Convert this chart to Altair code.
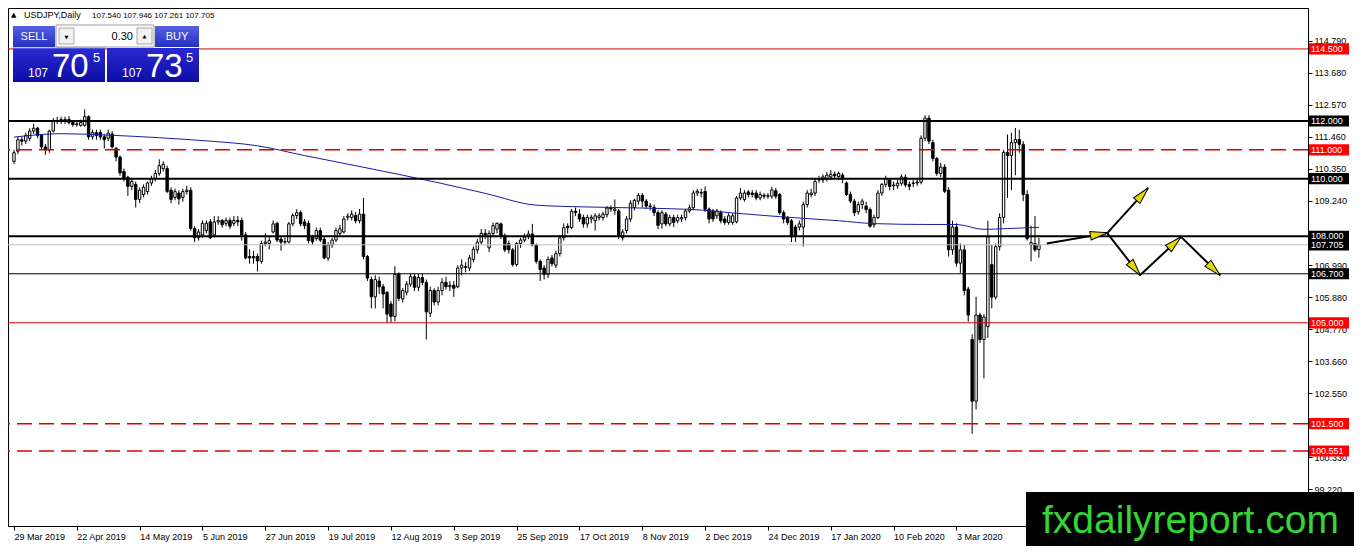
import json
import pandas as pd
import altair as alt

# ---------------- data ----------------
date_labels = ["29 Mar 2019", "22 Apr 2019", "14 May 2019", "5 Jun 2019", "27 Jun 2019",
               "19 Jul 2019", "12 Aug 2019", "3 Sep 2019", "25 Sep 2019", "17 Oct 2019",
               "8 Nov 2019", "2 Dec 2019", "24 Dec 2019", "17 Jan 2020", "10 Feb 2020",
               "3 Mar 2020"]
label_step = 16

opens = [
    110.60, 110.95, 111.35, 111.30, 111.40, 111.65, 111.75, 111.50, 111.10, 111.00,
    111.65, 112.00, 111.98, 112.05, 112.05, 111.95, 111.88, 111.85, 111.85, 112.15,
    111.45, 111.60, 111.60, 111.45, 111.40, 111.55, 111.05, 110.75, 110.25, 110.05,
    109.73, 109.80, 109.28, 109.45, 109.55, 109.85, 110.00, 110.18, 110.35, 110.35,
    109.60, 109.35, 109.50, 109.35, 109.55, 109.60, 108.27, 107.95, 108.05, 108.20,
    108.50, 108.05, 108.50, 108.55, 108.45, 108.55, 108.45, 108.55, 108.55, 108.05,
    107.30, 107.30, 107.30, 107.13, 107.75, 107.75, 108.15, 108.45, 107.90, 107.80,
    107.80, 108.43, 108.72, 108.82, 108.50, 108.45, 107.98, 107.92, 108.20, 107.90,
    107.24, 107.70, 107.87, 108.10, 108.15, 108.66, 108.65, 108.72, 108.54, 108.77,
    107.30, 106.50, 105.90, 106.45, 106.25, 106.05, 105.65, 105.22, 106.70, 105.83,
    106.06, 106.34, 106.60, 106.23, 106.57, 106.40, 105.33, 106.12, 105.72, 106.12,
    106.40, 106.25, 106.30, 106.25, 106.90, 106.95, 106.90, 107.20, 107.53, 107.80,
    108.10, 107.60, 108.10, 108.25, 108.43, 108.03, 107.75, 107.53, 107.02, 107.75,
    107.87, 108.00, 108.08, 107.70, 107.13, 106.90, 106.68, 107.25, 107.00, 107.40,
    107.95, 108.35, 108.30, 108.87, 108.77, 108.65, 108.43, 108.60, 108.54, 108.65,
    108.65, 108.75, 108.98, 108.90, 108.88, 107.95, 108.20, 108.60, 109.00, 109.22,
    109.42, 109.22, 109.05, 109.00, 108.82, 108.43, 108.77, 108.43, 108.65, 108.54,
    108.60, 108.65, 108.88, 108.99, 109.50, 109.52, 109.56, 108.94, 108.88, 108.71,
    108.82, 108.60, 108.48, 108.48, 108.50, 109.33, 109.28, 109.54, 109.50, 109.50,
    109.33, 109.42, 109.39, 109.39, 109.58, 109.45, 108.82, 108.65, 108.54, 108.32,
    108.32, 108.32, 109.10, 109.45, 109.50, 109.95, 109.95, 110.00, 110.06, 110.15,
    110.07, 110.12, 109.85, 109.45, 109.22, 108.85, 109.10, 109.05, 108.93, 108.40,
    108.65, 109.50, 109.80, 109.95, 109.75, 109.75, 109.84, 110.05, 109.80, 109.83,
    109.85, 109.88, 111.40, 112.10, 111.25, 110.70, 110.18, 110.40, 109.60, 107.53,
    108.32, 107.07, 107.53, 106.17, 104.42, 102.28, 105.27, 104.42, 104.87, 107.02,
    105.89, 107.64, 108.65, 110.91, 110.80, 111.25, 111.36, 111.19, 109.45, 107.70,
    107.75, 107.540]

highs = [
    111.00, 111.45, 111.45, 111.60, 111.75, 111.90, 111.80, 111.55, 111.20, 111.70,
    112.10, 112.15, 112.15, 112.15, 112.17, 112.00, 111.98, 112.05, 112.40, 112.20,
    111.70, 111.70, 111.70, 111.55, 111.70, 111.65, 111.10, 110.80, 110.35, 110.10,
    110.00, 109.90, 109.70, 109.80, 109.90, 110.10, 110.30, 110.67, 110.60, 110.45,
    109.70, 109.65, 109.60, 109.65, 109.75, 109.70, 108.35, 108.25, 108.55, 108.55,
    108.60, 108.70, 108.70, 108.60, 108.65, 108.65, 108.70, 108.70, 108.65, 108.15,
    107.55, 107.50, 107.40, 107.85, 108.10, 108.00, 108.55, 108.50, 108.00, 107.95,
    108.50, 108.80, 108.94, 108.90, 108.60, 108.55, 108.05, 108.30, 108.30, 108.00,
    107.80, 107.95, 108.30, 108.40, 108.70, 108.80, 108.90, 108.85, 108.95, 109.33,
    107.35, 106.60, 106.65, 106.60, 106.35, 106.10, 105.75, 106.96, 106.75, 106.20,
    106.45, 106.70, 106.70, 106.70, 106.70, 106.50, 106.25, 106.20, 106.25, 106.55,
    106.60, 106.45, 106.45, 107.00, 107.20, 107.10, 107.35, 107.65, 107.90, 108.25,
    108.25, 108.20, 108.48, 108.48, 108.48, 108.10, 107.85, 107.60, 107.80, 107.95,
    108.10, 108.20, 108.43, 107.75, 107.20, 107.00, 107.30, 107.35, 107.50, 108.05,
    108.45, 108.45, 108.95, 109.00, 108.94, 108.75, 108.75, 108.75, 108.80, 108.80,
    108.85, 109.05, 109.07, 109.28, 108.95, 108.25, 108.70, 109.25, 109.30, 109.50,
    109.50, 109.30, 109.15, 109.10, 108.90, 108.90, 108.85, 108.75, 108.75, 108.75,
    108.75, 108.95, 109.10, 109.60, 109.65, 109.65, 109.73, 109.00, 108.95, 108.95,
    108.90, 108.70, 108.80, 108.80, 109.40, 109.67, 109.60, 109.60, 109.60, 109.60,
    109.55, 109.50, 109.50, 109.72, 109.68, 109.50, 108.90, 108.70, 108.60, 108.40,
    108.55, 109.20, 109.60, 109.65, 110.00, 110.10, 110.15, 110.23, 110.30, 110.25,
    110.25, 110.20, 109.90, 109.55, 109.30, 109.20, 109.30, 109.20, 109.00, 108.75,
    109.60, 109.85, 110.10, 110.00, 109.90, 109.95, 110.15, 110.15, 109.90, 109.95,
    110.00, 111.50, 112.20, 112.20, 111.35, 110.75, 110.55, 110.50, 109.70, 108.54,
    108.45, 107.75, 107.70, 106.25, 104.60, 105.90, 105.35, 105.30, 108.54, 107.70,
    107.75, 108.80, 111.00, 111.53, 111.60, 111.76, 111.70, 111.30, 109.60, 108.37,
    108.70, 107.946]

lows = [
    110.50, 110.85, 111.15, 111.20, 111.30, 111.55, 111.40, 111.00, 110.83, 110.90,
    111.60, 111.90, 111.90, 111.90, 111.88, 111.80, 111.80, 111.80, 111.80, 111.35,
    111.35, 111.35, 111.35, 111.05, 111.30, 111.05, 110.60, 110.10, 109.90, 109.40,
    109.60, 109.00, 109.15, 109.35, 109.45, 109.75, 109.90, 110.10, 110.25, 109.50,
    109.15, 109.25, 109.10, 109.20, 109.45, 108.20, 107.80, 107.85, 107.95, 108.10,
    107.90, 107.95, 108.40, 108.30, 108.35, 108.25, 108.35, 108.35, 107.85, 107.20,
    107.05, 107.05, 106.78, 107.05, 107.65, 107.55, 108.10, 107.80, 107.50, 107.70,
    107.75, 108.35, 108.60, 108.35, 108.25, 107.75, 107.70, 107.85, 107.80, 107.20,
    107.15, 107.60, 107.80, 108.00, 108.10, 108.55, 108.55, 108.45, 108.45, 107.20,
    106.45, 105.50, 105.50, 106.00, 105.50, 104.99, 105.00, 105.05, 105.75, 105.70,
    105.95, 106.25, 106.10, 106.10, 106.30, 104.42, 105.20, 105.60, 105.60, 105.95,
    106.15, 106.10, 105.90, 106.20, 106.65, 106.75, 106.80, 107.10, 107.40, 107.70,
    107.90, 107.45, 108.00, 108.10, 107.90, 107.45, 107.40, 106.95, 106.95, 107.60,
    107.80, 107.90, 107.65, 107.05, 106.45, 106.50, 106.55, 106.95, 106.90, 107.30,
    107.85, 108.10, 108.25, 108.70, 108.50, 108.30, 108.30, 108.45, 108.20, 108.55,
    108.55, 108.65, 108.85, 108.75, 107.90, 107.85, 108.10, 108.50, 108.90, 109.10,
    109.00, 108.95, 108.90, 108.70, 108.25, 108.26, 108.35, 108.35, 108.32, 108.45,
    108.50, 108.55, 108.80, 108.90, 109.40, 109.35, 108.85, 108.45, 108.50, 108.60,
    108.45, 108.40, 108.40, 108.40, 108.45, 109.25, 109.20, 109.35, 109.35, 109.25,
    109.25, 109.30, 109.30, 109.30, 109.30, 108.75, 108.45, 108.40, 107.80, 107.80,
    108.20, 107.65, 109.00, 109.35, 109.40, 109.85, 109.85, 109.90, 109.95, 110.00,
    109.95, 109.84, 109.40, 109.15, 108.70, 108.75, 108.95, 108.80, 108.30, 108.30,
    108.60, 109.40, 109.70, 109.60, 109.60, 109.65, 109.75, 109.70, 109.60, 109.70,
    109.75, 109.80, 111.30, 111.20, 110.60, 110.10, 110.05, 109.50, 107.30, 107.36,
    106.95, 106.73, 105.95, 105.04, 101.15, 101.99, 104.30, 103.07, 104.48, 105.50,
    105.80, 107.50, 108.45, 109.33, 109.60, 110.12, 110.90, 109.22, 107.85, 107.13,
    107.46, 107.261]

closes = [
    110.90, 111.35, 111.30, 111.50, 111.65, 111.75, 111.50, 111.10, 111.00, 111.65,
    112.00, 111.98, 112.05, 112.00, 111.95, 111.88, 111.90, 111.95, 112.15, 111.45,
    111.60, 111.50, 111.45, 111.35, 111.58, 111.10, 110.75, 110.20, 110.00, 109.73,
    109.90, 109.28, 109.60, 109.70, 109.85, 110.00, 110.18, 110.45, 110.50, 109.56,
    109.28, 109.55, 109.30, 109.55, 109.60, 108.27, 107.95, 108.15, 108.45, 108.45,
    107.95, 108.50, 108.55, 108.40, 108.55, 108.35, 108.55, 108.50, 108.05, 107.25,
    107.25, 107.25, 107.15, 107.75, 107.80, 107.85, 108.43, 107.87, 107.80, 107.82,
    108.43, 108.72, 108.82, 108.43, 108.37, 107.85, 107.81, 108.20, 107.87, 107.25,
    107.70, 107.87, 108.20, 108.26, 108.60, 108.70, 108.77, 108.54, 108.77, 107.30,
    106.55, 105.90, 106.50, 106.25, 106.00, 105.30, 105.22, 106.68, 105.85, 106.12,
    106.34, 106.60, 106.23, 106.57, 106.40, 105.38, 106.12, 105.72, 106.12, 106.40,
    106.25, 106.30, 106.20, 106.90, 107.00, 106.92, 107.25, 107.55, 107.80, 108.10,
    108.05, 108.10, 108.37, 108.45, 108.03, 107.53, 107.53, 107.02, 107.75, 107.87,
    107.98, 108.08, 107.70, 107.13, 106.85, 106.68, 107.20, 107.05, 107.40, 107.95,
    108.30, 108.30, 108.87, 108.82, 108.60, 108.43, 108.65, 108.66, 108.71, 108.71,
    108.77, 108.98, 108.95, 108.95, 108.03, 108.15, 108.60, 109.15, 109.25, 109.42,
    109.22, 109.05, 109.03, 108.82, 108.38, 108.82, 108.43, 108.65, 108.48, 108.65,
    108.65, 108.88, 108.99, 109.50, 109.56, 109.50, 108.94, 108.60, 108.60, 108.88,
    108.54, 108.48, 108.71, 108.71, 109.33, 109.50, 109.50, 109.45, 109.45, 109.33,
    109.45, 109.39, 109.41, 109.61, 109.39, 108.82, 108.60, 108.48, 107.98, 108.04,
    108.43, 109.10, 109.50, 109.50, 109.90, 109.99, 110.06, 110.12, 110.15, 110.10,
    110.18, 110.00, 109.45, 109.22, 108.82, 109.10, 109.22, 108.93, 108.35, 108.65,
    109.50, 109.80, 110.00, 109.73, 109.78, 109.84, 110.06, 109.78, 109.73, 109.85,
    109.88, 111.40, 112.10, 111.30, 110.70, 110.18, 110.40, 109.56, 107.53, 108.32,
    107.07, 107.53, 106.12, 105.27, 102.28, 105.27, 104.42, 105.20, 107.98, 105.89,
    107.64, 108.65, 110.91, 110.80, 111.25, 111.36, 111.19, 109.45, 107.92, 107.78,
    107.53, 107.705]

# moving average (blue) sampled along the curve: bar index, price
ma_bar = [0, 12, 24, 37, 49, 62, 74, 87, 99, 108, 120, 133, 145, 160, 175, 183,
          195, 210, 219, 233, 240, 247, 253, 261]
ma_val = [111.44, 111.56, 111.51, 111.42, 111.31, 111.14, 110.80, 110.45, 110.12,
          109.86, 109.49, 109.08, 109.02, 108.98, 108.91, 108.81, 108.68, 108.54,
          108.44, 108.41, 108.41, 108.24, 108.27, 108.31]

# price-scale labels (108.130 is fully hidden under the 108.000 tag in the reference)
price_ticks = [114.79, 113.68, 112.57, 111.46, 110.35, 109.24, 106.99,
               105.88, 104.77, 103.66, 102.55, 101.44, 100.33, 99.22]

thick_levels = [112.0, 110.0, 108.0]
thin_levels = [106.7]
red_levels = [114.5, 105.0]
red_dashed_levels = [111.0, 101.5, 100.551]
bid_levels = [107.705]
red_tags = [114.5, 111.0, 105.0, 101.5, 100.551]
black_tags = [112.0, 110.0, 108.0, 107.705, 106.7]

# projected path arrows (bar index / price)
arrow_x1 = [263.0, 278.4, 278.4, 286.75, 297.2]
arrow_y1 = [107.75, 108.11, 108.11, 106.65, 107.98]
arrow_x2 = [278.4, 288.8, 286.75, 297.2, 307.2]
arrow_y2 = [108.11, 109.67, 106.65, 107.98, 106.65]
head_x = [276.3, 287.4, 285.5, 295.6, 305.6]
head_y = [108.07, 109.46, 106.87, 107.78, 106.85]
head_angle = [80, 42, 142, 47, 135]

symbol_line = "USDJPY,Daily"
ohlc_line = "107.540 107.946 107.261 107.705"
lot_text = "0.30"
sell_parts = ["107", "70", "5"]
buy_parts = ["107", "73", "5"]
watermark = "fxdailyreport.com"

# ---------------- layout ----------------
W, H = 1300, 518
FONT = "Liberation Sans"
xs = alt.Scale(domain=[-0.25, 328.25], nice=False, zero=False)
ys = alt.Scale(domain=[97.95, 115.92], nice=False, zero=False)

n = len(opens)
assert len(highs) == n and len(lows) == n and len(closes) == n
cdf = pd.DataFrame({"i": list(range(n)), "o": opens, "h": highs, "l": lows, "c": closes})
cdf["h"] = cdf[["o", "h", "c"]].max(axis=1)
cdf["l"] = cdf[["o", "l", "c"]].min(axis=1)

x_axis = alt.Axis(
    values=[k * label_step for k in range(len(date_labels))],
    labelExpr=f"{json.dumps(date_labels)}[round(datum.value / {label_step})]",
    title=None, grid=False, tickSize=4, tickColor="black", domainColor="black",
    labelColor="black", labelFont=FONT, labelFontSize=9, labelAlign="left",
    labelBaseline="top", labelPadding=2, labelOverlap=False, labelFlush=False)
y_axis = alt.Axis(
    orient="right", values=price_ticks, format=".3f", title=None, grid=False,
    tickSize=4, tickColor="black", domainColor="black", labelColor="black",
    labelFont=FONT, labelFontSize=9, labelAlign="left", labelBaseline="middle",
    labelPadding=2, labelOverlap=False, labelFlush=False)


def X(field):
    return alt.X(field, scale=xs, axis=x_axis)


def Y(field):
    return alt.Y(field, scale=ys, axis=y_axis)


wicks = alt.Chart(cdf).mark_rule(color="black", strokeWidth=1).encode(
    x=X("i:Q"), y=Y("l:Q"), y2="h:Q")
bodies = alt.Chart(cdf).mark_bar(size=2.4, stroke="black", strokeWidth=1).encode(
    x=X("i:Q"), y=Y("o:Q"), y2="c:Q",
    fill=alt.condition("datum.c >= datum.o", alt.value("white"), alt.value("black")))

ma = alt.Chart(pd.DataFrame({"b": ma_bar, "v": ma_val})).mark_line(
    color="#1a1aa8", strokeWidth=1, interpolate="monotone").encode(
    x=X("b:Q"), y=Y("v:Q"))


def hlines(vals, color, width, dash=None):
    kw = dict(color=color, strokeWidth=width)
    if dash:
        kw["strokeDash"] = dash
    return alt.Chart(pd.DataFrame({"p": vals})).mark_rule(**kw).encode(y=Y("p:Q"))


arrows = alt.Chart(pd.DataFrame({"x1": arrow_x1, "y1": arrow_y1, "x2": arrow_x2, "y2": arrow_y2})
                   ).mark_rule(color="black", strokeWidth=2).encode(
    x=X("x1:Q"), x2="x2:Q", y=Y("y1:Q"), y2="y2:Q")
heads = alt.Chart(pd.DataFrame({"x": head_x, "y": head_y, "a": head_angle})).mark_point(
    shape="M0,-1L0.5,1L-0.5,1Z", size=300, filled=True, fill="#e4d800",
    stroke="black", strokeWidth=1, opacity=1).encode(
    x=X("x:Q"), y=Y("y:Q"), angle=alt.Angle("a:Q", scale=None))

BOX = "M-1,-0.28L1,-0.28L1,0.28L-1,0.28Z"


def tags(vals, color):
    df = pd.DataFrame({"p": vals, "t": [f"{v:.3f}" for v in vals]})
    box = alt.Chart(df).mark_point(shape=BOX, size=40 * 40, filled=True, color=color,
                                   opacity=1, strokeWidth=0).encode(
        x=alt.value(W + 21), y=Y("p:Q"))
    txt = alt.Chart(df).mark_text(align="left", baseline="middle", color="white",
                                  font=FONT, fontSize=9).encode(
        x=alt.value(W + 3), y=Y("p:Q"), text="t:N")
    return [box, txt]


one = pd.DataFrame({"k": [0]})


def rect_px(x, x2, y, y2, fill, stroke=None, sw=1):
    kw = {"fill": fill}
    if stroke:
        kw["stroke"] = stroke
        kw["strokeWidth"] = sw
    return alt.Chart(one).mark_rect(**kw).encode(
        x=alt.value(x), x2=alt.value(x2), y=alt.value(y), y2=alt.value(y2))


def text_px(x, y, s, size, color="black", align="left", baseline="alphabetic",
            font=FONT, weight="normal"):
    return alt.Chart(one).mark_text(align=align, baseline=baseline, font=font,
                                    fontSize=size, fontWeight=weight, color=color).encode(
        x=alt.value(x), y=alt.value(y), text=alt.value(s))


def grad(top, bottom):
    return alt.Gradient(gradient="linear",
                        stops=[alt.GradientStop(color=top, offset=0),
                               alt.GradientStop(color=bottom, offset=1)],
                        x1=0, x2=0, y1=0, y2=1)


panel = [
    text_px(3, 9, "▲", 7, font="DejaVu Sans"),
    text_px(16, 10, symbol_line, 9),
    text_px(84, 10, ohlc_line, 8),
    # SELL / BUY buttons
    rect_px(5, 47, 18, 39, grad("#5560e6", "#2630c0")),
    text_px(26, 29, "SELL", 11, color="white", align="center", baseline="middle"),
    rect_px(147, 191, 18, 39, grad("#5560e6", "#2630c0")),
    text_px(169, 29, "BUY", 11, color="white", align="center", baseline="middle"),
    # lot spinner
    rect_px(48, 146, 17, 39, "white", stroke="#9a9a9a"),
    rect_px(51, 66, 20, 36, "#f2f2f2", stroke="#a8a8a8"),
    rect_px(129, 144, 20, 36, "#f2f2f2", stroke="#a8a8a8"),
    text_px(58.5, 29, "▼", 5, font="DejaVu Sans", align="center", baseline="middle"),
    text_px(136.5, 28, "▲", 5, font="DejaVu Sans", align="center", baseline="middle"),
    text_px(125, 29, lot_text, 11, align="right", baseline="middle"),
    # price boxes
    rect_px(5, 97, 40, 74, grad("#2a2ad2", "#0c0ca6")),
    rect_px(99, 191, 40, 74, grad("#2a2ad2", "#0c0ca6")),
    rect_px(5, 97, 39.5, 40.5, "#7f88ee"),
    text_px(20, 69, sell_parts[0], 12, color="white"),
    text_px(44, 69, sell_parts[1], 33, color="white"),
    text_px(85, 54, sell_parts[2], 13, color="white"),
    text_px(114, 69, buy_parts[0], 12, color="white"),
    text_px(138, 69, buy_parts[1], 33, color="white"),
    text_px(178, 54, buy_parts[2], 13, color="white"),
]

wm = [
    rect_px(1018, 1346, 484, 538, "black"),
    text_px(1034, 525, watermark, 39, color="#33d633"),
]

layers = [wicks, bodies, ma,
          hlines(thick_levels, "black", 2),
          hlines(thin_levels, "black", 1),
          hlines(red_levels, "#dd0000", 1),
          hlines(red_dashed_levels, "#dd0000", 1.5, [15, 7]),
          hlines(bid_levels, "#c0c0c0", 1),
          arrows, heads]
layers += tags(red_tags, "#ff0000") + tags(black_tags, "black")
layers += panel + wm

chart = alt.layer(*layers).properties(
    width=W, height=H,
    padding={"left": 0, "top": 0, "right": 46, "bottom": 20},
    autosize=alt.AutoSizeParams(type="none"),
    background="white",
).configure_view(stroke="black", strokeWidth=1)

chart.save("out.html", embed_options={"renderer": "svg", "actions": False})
